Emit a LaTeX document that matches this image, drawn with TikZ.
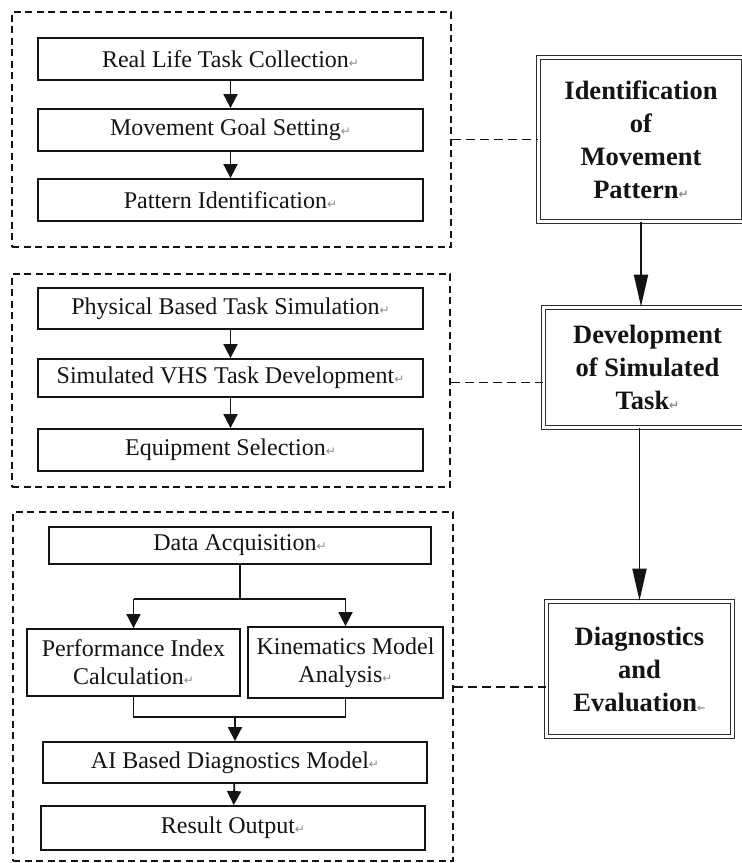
\documentclass[tikz,border=0pt]{standalone}
\usepackage{fontspec}
\setmainfont{Liberation Serif}
\newfontfamily\markfont{DejaVu Sans}
\usepackage{xcolor}
\usetikzlibrary{arrows.meta,positioning}
\definecolor{ink}{HTML}{141414}
\definecolor{frame}{HTML}{2E2E2E}
\definecolor{mark}{HTML}{8C8C8C}
\newcommand{\retmark}{{\markfont\fontsize{12}{12}\selectfont\color{mark}↵}}
\tikzset{
  task/.style={draw=ink, line width=1.8pt, minimum width=385pt, minimum height=42pt,
    inner sep=0pt, align=center, text=ink, font=\fontsize{24}{28}\selectfont},
  stage/.style={draw=frame, double, line width=1.7pt, double distance=2.5pt, inner sep=0pt,
    align=center, text=ink, font=\bfseries\fontsize{26.5}{33}\selectfont},
  grp/.style={draw=ink, line width=1.6pt, dash pattern=on 7pt off 4.5pt, inner sep=0pt},
  link/.style={draw=ink, line width=1.6pt, dash pattern=on 9pt off 5pt},
  wire/.style={draw=ink, line width=1.8pt},
  arr/.style={wire, -{Triangle[length=14pt,width=14pt]}},
  big/.style={wire, -{Triangle[length=32pt,width=14pt]}},
}

\begin{document}
\begin{tikzpicture}[x=1pt, y=-1pt]
  \useasboundingbox (0,0) rectangle (742,863);
  \fill[white] (0,0) rectangle (742,863);
  % dashed groups
  \node[grp, minimum width=439pt, minimum height=235pt] (g1) at (231.5,129.5) {};
  \node[grp, minimum width=438pt, minimum height=213pt] (g2) at (231,380.5) {};
  \node[grp, minimum width=440pt, minimum height=349pt] (g3) at (233,686.5) {};
  % movement pattern
  \node[task] (t1) at (230.5,59) {Real Life Task Collection\retmark};
  \node[task] (t2) at (230.5,130) {Movement Goal Setting\retmark};
  \node[task] (t3) at (230.5,200) {Pattern Identification\retmark};
  % simulated task
  \node[task, minimum height=41pt] (s1) at (230.5,308.5) {Physical Based Task Simulation\retmark};
  \node[task, minimum height=38pt] (s2) at (230.5,378) {Simulated VHS Task Development\retmark};
  \node[task] (s3) at (230.5,450) {Equipment Selection\retmark};
  % diagnostics
  \node[task, minimum width=382pt, minimum height=37pt] (da) at (240,545.5) {Data Acquisition\retmark};
  \node[task, minimum width=213pt, minimum height=67pt] (pic) at (133.5,662.5) {Performance Index\\Calculation\retmark};
  \node[task, minimum width=195pt, minimum height=71pt] (kma) at (345.5,662.5) {Kinematics Model\\Analysis\retmark};
  \node[task, minimum width=384pt, minimum height=41pt] (ai) at (235,762.5) {AI Based Diagnostics Model\retmark};
  \node[task, minimum width=384pt, minimum height=44pt] (res) at (233,828) {Result Output\retmark};
  % stages
  \node[stage, minimum width=205pt, minimum height=164pt] (idn) at (641,139.5) {Identification\\of\\Movement\\Pattern\retmark};
  \node[stage, minimum width=208pt, minimum height=120pt] (dev) at (647.5,367.5) {Development\\of Simulated\\Task\retmark};
  \node[stage, minimum width=186pt, minimum height=135pt] (diag) at (639.5,669) {Diagnostics\\and\\Evaluation{\markfont\fontsize{10}{10}\selectfont\color{mark}←}};

  \foreach \a/\b in {t1/t2,t2/t3,s1/s2,s2/s3,ai/res}
    \draw[arr] (\a) -- (\b);
  \draw[wire] (da.south) -- ++(0,34) coordinate (split);
  \draw[wire] (split -| pic.north) -- (split -| kma.north);
  \foreach \n in {pic,kma}
    \draw[arr] (split -| \n.north) -- (\n.north);
  \draw[wire] (pic.south) -- ++(0,20) coordinate (join) -- (join -| kma.south) -- (kma.south);
  \draw[arr] (join -| ai.north) -- (ai.north);

  \draw[big] (idn.south) -- (idn.south |- dev.north);
  \draw[big] (diag.north |- dev.south) -- (diag.north);

  \coordinate (c1) at (idn.west);
  \coordinate (c2) at ([yshift=-15pt]dev.west);
  \coordinate (c3) at ([yshift=-18pt]diag.west);
  \foreach \c/\g in {c1/g1,c2/g2,c3/g3}
    \draw[link] (\c -| \g.east) -- (\c);
\end{tikzpicture}
\end{document}
